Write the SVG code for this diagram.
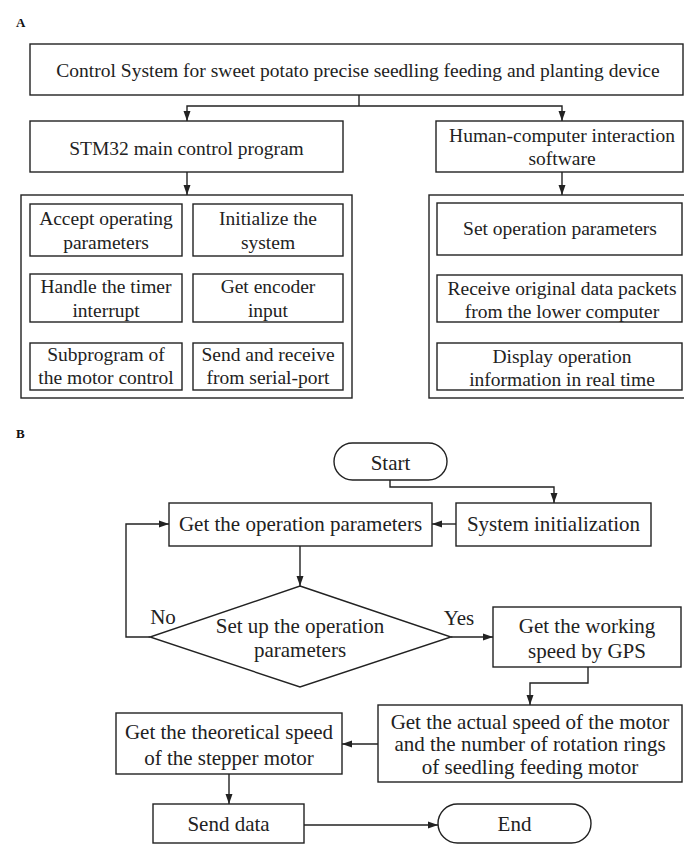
<svg xmlns="http://www.w3.org/2000/svg" width="684" height="844" viewBox="0 0 684 844">
<style>
  .box { fill: #ffffff; stroke: #222222; stroke-width: 1.4; }
  .cont { fill: none; stroke: #222222; stroke-width: 1.4; }
  .ta { font-family: "Liberation Serif", "Times New Roman", serif; font-size: 19.5px; fill: #222222; text-anchor: middle; }
  .tb { font-family: "Liberation Serif", "Times New Roman", serif; font-size: 21px; fill: #222222; text-anchor: middle; }
  .lbl { font-family: "Liberation Serif", "Times New Roman", serif; font-size: 13px; font-weight: bold; fill: #111111; }
  .edge { fill: none; stroke: #222222; stroke-width: 1.4; }
</style>
<defs>
  <marker id="arr" viewBox="0 0 10 10" refX="10" refY="5" markerWidth="10" markerHeight="10" markerUnits="userSpaceOnUse" orient="auto">
    <path d="M0,1.5 L10,5 L0,8.5 Z" fill="#222222"/>
  </marker>
</defs>
<rect width="684" height="844" fill="#ffffff"/>

<text class="lbl" x="16" y="27">A</text>
<text class="lbl" x="16" y="438">B</text>

<!-- Part A nodes -->
<g id="a-title">
  <rect class="box" x="30" y="44" width="653" height="51"/>
  <text class="ta" x="358" y="77">Control System for sweet potato precise seedling feeding and planting device</text>
</g>
<g id="a-stm32">
  <rect class="box" x="30" y="121" width="313" height="51"/>
  <text class="ta" x="186.5" y="155">STM32 main control program</text>
</g>
<g id="a-hci">
  <rect class="box" x="436" y="121" width="247" height="51"/>
  <text class="ta" x="562" y="142">Human-computer interaction</text>
  <text class="ta" x="562" y="165">software</text>
</g>
<g id="a-left-group">
  <rect class="cont" x="21" y="195" width="331" height="203"/>
</g>
<g id="a-accept">
  <rect class="box" x="30" y="204" width="152" height="52"/>
  <text class="ta" x="106" y="225">Accept operating</text>
  <text class="ta" x="106" y="249">parameters</text>
</g>
<g id="a-init">
  <rect class="box" x="193" y="204" width="150" height="52"/>
  <text class="ta" x="268" y="225">Initialize the</text>
  <text class="ta" x="268" y="249">system</text>
</g>
<g id="a-timer">
  <rect class="box" x="30" y="274" width="152" height="48"/>
  <text class="ta" x="106" y="293">Handle the timer</text>
  <text class="ta" x="106" y="317">interrupt</text>
</g>
<g id="a-encoder">
  <rect class="box" x="193" y="274" width="150" height="48"/>
  <text class="ta" x="268" y="293">Get encoder</text>
  <text class="ta" x="268" y="317">input</text>
</g>
<g id="a-motor">
  <rect class="box" x="30" y="343" width="152" height="47"/>
  <text class="ta" x="106" y="361">Subprogram of</text>
  <text class="ta" x="106" y="384">the motor control</text>
</g>
<g id="a-serial">
  <rect class="box" x="193" y="343" width="150" height="47"/>
  <text class="ta" x="268" y="361">Send and receive</text>
  <text class="ta" x="268" y="384">from serial-port</text>
</g>
<g id="a-right-group">
  <rect class="cont" x="429" y="195" width="256" height="203"/>
</g>
<g id="a-setparam">
  <rect class="box" x="437" y="203" width="245" height="52"/>
  <text class="ta" x="560" y="235">Set operation parameters</text>
</g>
<g id="a-receive">
  <rect class="box" x="437" y="275" width="245" height="47"/>
  <text class="ta" x="562" y="295">Receive original data packets</text>
  <text class="ta" x="562" y="318">from the lower computer</text>
</g>
<g id="a-display">
  <rect class="box" x="437" y="343" width="245" height="47"/>
  <text class="ta" x="562" y="363">Display operation</text>
  <text class="ta" x="562" y="386">information in real time</text>
</g>

<!-- Part B nodes -->
<g id="b-start">
  <rect class="box" x="334" y="443" width="113" height="37" rx="18.5" ry="18.5"/>
  <text class="tb" x="390.5" y="470">Start</text>
</g>
<g id="b-getparam">
  <rect class="box" x="169" y="503" width="263" height="43"/>
  <text class="tb" x="300.5" y="531">Get the operation parameters</text>
</g>
<g id="b-sysinit">
  <rect class="box" x="456" y="503" width="195" height="43"/>
  <text class="tb" x="553.5" y="531">System initialization</text>
</g>
<g id="b-decision">
  <polygon class="box" points="300,586 451,637 300,687 150,637"/>
  <text class="tb" x="300" y="633">Set up the operation</text>
  <text class="tb" x="300" y="657">parameters</text>
</g>
<g id="b-gps">
  <rect class="box" x="493" y="607" width="188" height="60"/>
  <text class="tb" x="587" y="633">Get the working</text>
  <text class="tb" x="587" y="658">speed by GPS</text>
</g>
<g id="b-actual">
  <rect class="box" x="378" y="705" width="304" height="77"/>
  <text class="tb" x="530" y="729">Get the actual speed of the motor</text>
  <text class="tb" x="530" y="751">and the number of rotation rings</text>
  <text class="tb" x="530" y="774">of seedling feeding motor</text>
</g>
<g id="b-theory">
  <rect class="box" x="116" y="713" width="226" height="61"/>
  <text class="tb" x="229" y="739">Get the theoretical speed</text>
  <text class="tb" x="229" y="765">of the stepper motor</text>
</g>
<g id="b-send">
  <rect class="box" x="153" y="804" width="151" height="39"/>
  <text class="tb" x="228.5" y="831">Send data</text>
</g>
<g id="b-end">
  <rect class="box" x="438" y="804" width="153" height="39" rx="19.5" ry="19.5"/>
  <text class="tb" x="514.5" y="831">End</text>
</g>

<!-- Connectors -->
<g id="connectors">
  <path class="edge" d="M359,95 V106"/>
  <path class="edge" d="M359,106 H187 V121" marker-end="url(#arr)"/>
  <path class="edge" d="M359,106 H562 V121" marker-end="url(#arr)"/>
  <path class="edge" d="M187,172 V195" marker-end="url(#arr)"/>
  <path class="edge" d="M562,172 V195" marker-end="url(#arr)"/>

  <path class="edge" d="M390,480 V487 H554 V503" marker-end="url(#arr)"/>
  <path class="edge" d="M456,524 H432" marker-end="url(#arr)"/>
  <path class="edge" d="M300,546 V586" marker-end="url(#arr)"/>
  <path class="edge" d="M451,637 H493" marker-end="url(#arr)"/>
  <path class="edge" d="M150,637 H126 V524 H169" marker-end="url(#arr)"/>
  <path class="edge" d="M588,667 V683 H530 V705" marker-end="url(#arr)"/>
  <path class="edge" d="M378,744 H342" marker-end="url(#arr)"/>
  <path class="edge" d="M229,774 V804" marker-end="url(#arr)"/>
  <path class="edge" d="M304,825 H438" marker-end="url(#arr)"/>
  <text class="tb" x="163" y="624">No</text>
  <text class="tb" x="459" y="625">Yes</text>
</g>
</svg>
